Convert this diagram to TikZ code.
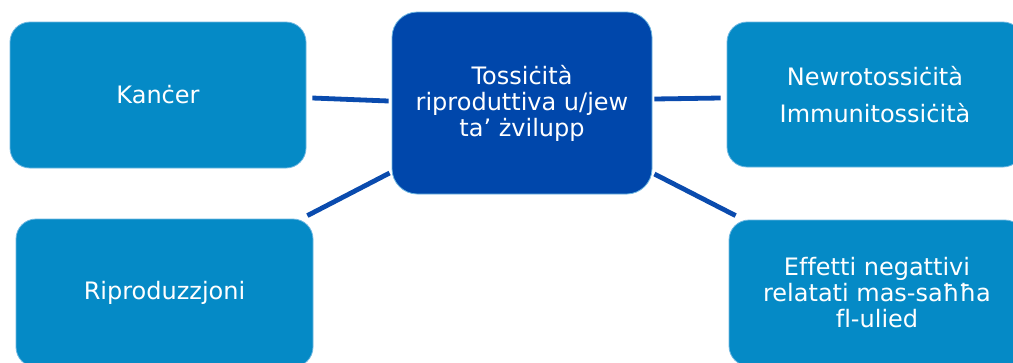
\documentclass[tikz,border=0pt]{standalone}
\usepackage{fontspec}
\setmainfont[Ligatures=NoCommon]{DejaVu Sans}
\usetikzlibrary{calc}
\definecolor{lightbox}{HTML}{058AC6}
\definecolor{darkbox}{HTML}{0047AB}
\definecolor{linkcol}{HTML}{0A4BAE}
\definecolor{edgecol}{HTML}{6FB8E2}
\tikzset{
  box/.style={rectangle, rounded corners=15pt, fill=lightbox, draw=edgecol, line width=0.6pt,
    text=white, align=center, inner sep=0pt,
    font=\fontsize{18}{19.5}\selectfont},
  mainbox/.style={box, fill=darkbox, draw=edgecol, rounded corners=19pt},
  link/.style={draw=linkcol, line width=3.6pt}
}
\begin{document}
\begin{tikzpicture}[x=0.75pt, y=-0.75pt]
\useasboundingbox (0,0) rectangle (1013,362);
\clip (0,0) rectangle (1013,362);
\fill[white] (0,0) rectangle (1013,362);
\node[box, minimum width=222pt, minimum height=109.5pt] (kancer) at (158,95) {Kanċer};
\node[box, minimum width=222.75pt, minimum height=111pt] (ripro) at (164.5,293) {Riproduzzjoni};
\node[mainbox, minimum width=195pt, minimum height=136.5pt] (center) at (522,103)
  {Tossiċità\\riproduttiva u/jew\\ta’ żvilupp};
\node[box, minimum width=222pt, minimum height=108.75pt] (newro) at (875,94.5)
  {Newrotossiċità\\[8pt]Immunitossiċità};
\node[box, minimum width=222pt, minimum height=109.5pt] (effetti) at (877,293)
  {Effetti negattivi\\relatati mas-saħħa\\fl-ulied};
\draw[link] ($(kancer.east)+(6,3)$) -- ($(center.west)+(-3,-2)$);
\draw[link] ($(ripro.north east)+(-6,-3)$) -- ($(center.west)+(-2,70)$);
\draw[link] ($(center.east)+(2,-4)$) -- ($(newro.west)+(-6,3.5)$);
\draw[link] ($(center.east)+(2,71)$) -- ($(effetti.north west)+(7,-4)$);
\end{tikzpicture}
\end{document}
